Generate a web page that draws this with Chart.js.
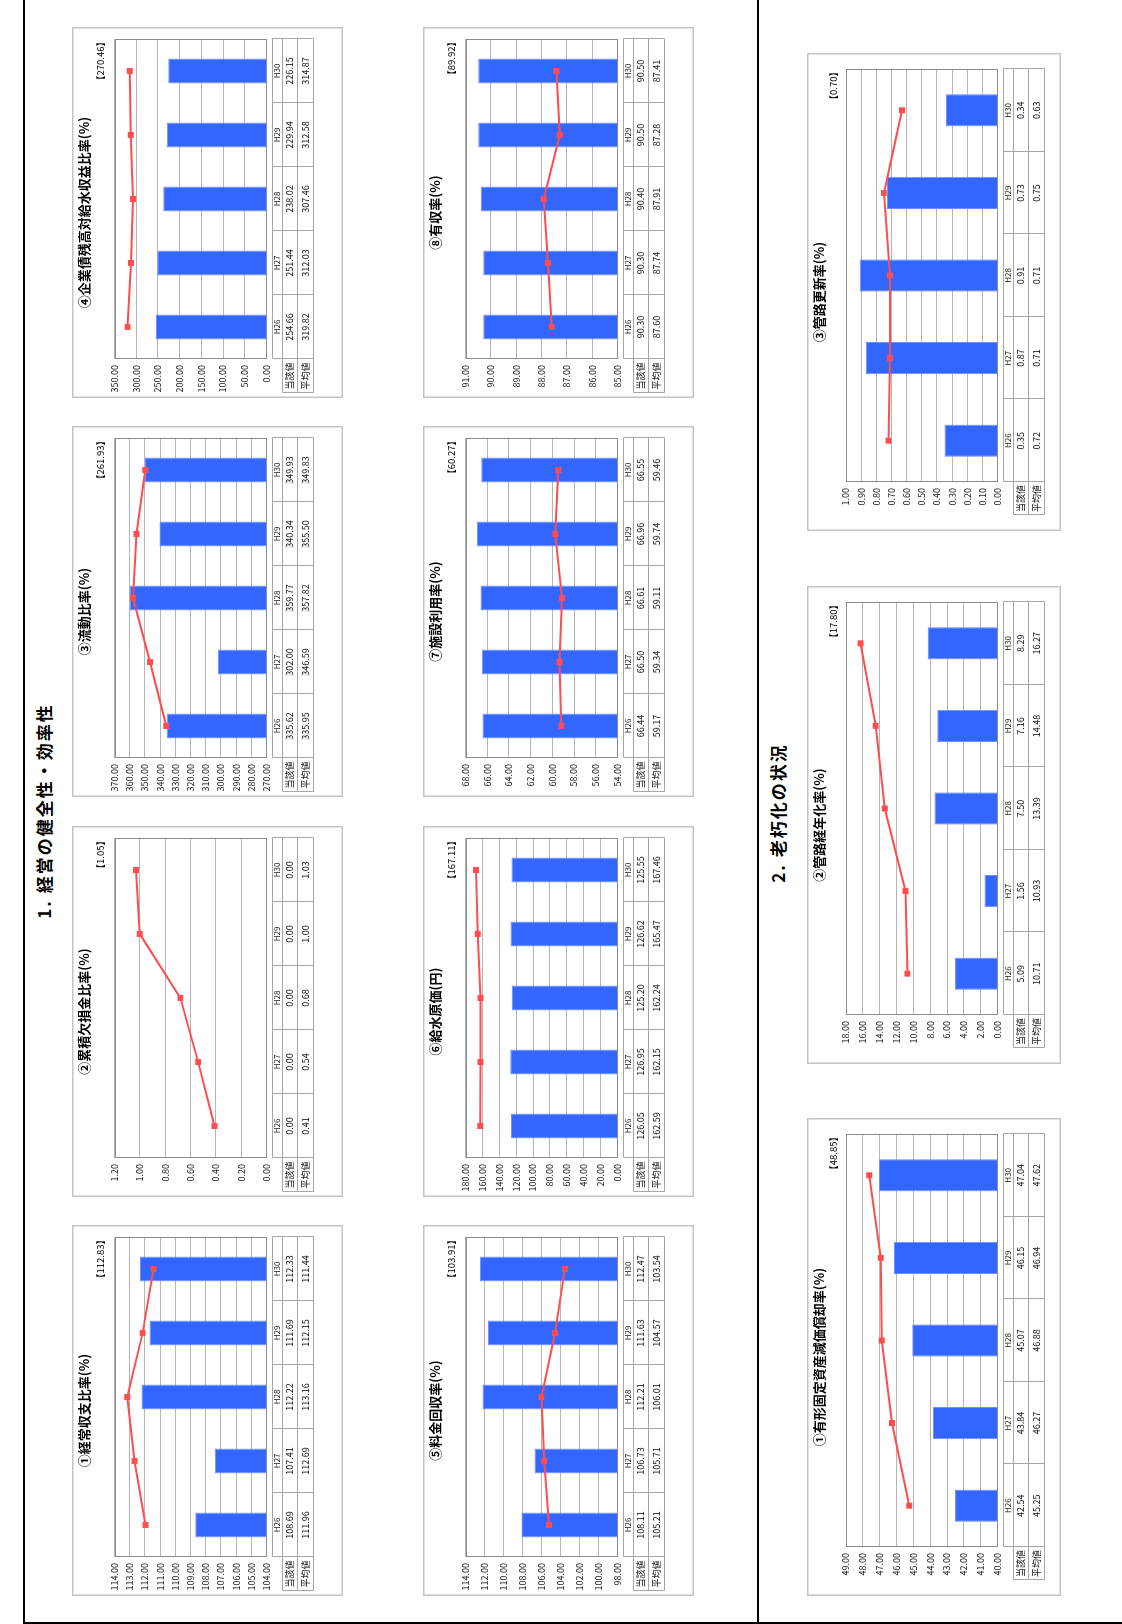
<!DOCTYPE html>
<html lang="ja">
<head>
<meta charset="utf-8">
<title>経営比較分析</title>
<script src="https://cdn.jsdelivr.net/npm/chart.js@4.4.0/dist/chart.umd.min.js"></script>
<style>
html, body { margin: 0; padding: 0; background: #fff; }
body { width: 1122px; height: 1624px; overflow: hidden; position: relative; font-family: "Noto Sans CJK JP", sans-serif; }
/* the sheet is landscape, turned a quarter to fit the portrait page */
#page { position: absolute; left: 0; top: 0; width: 1624px; height: 1122px; transform-origin: 0 0; transform: translate(0, 1624px) rotate(-90deg); }
.line { position: absolute; background: #000; }
.sec { position: absolute; font-weight: bold; font-size: 17px; letter-spacing: 2px; white-space: nowrap; transform: translate(-50%, -50%); color: #000; }
.box { position: absolute; }
.box canvas { display: block; }
</style>
</head>
<body>
<div id="page">
  <div class="line" style="left:1px;top:23px;width:1623px;height:2px"></div>
  <div class="line" style="left:1px;top:757px;width:1623px;height:2px"></div>
  <div class="line" style="left:0;top:23px;width:2px;height:1099px"></div>
  <div class="sec" style="left:813px;top:43px">1. 経営の健全性・効率性</div>
  <div class="sec" style="left:811px;top:777px">2. 老朽化の状況</div>
</div>

<script>
const years = ["H26", "H27", "H28", "H29", "H30"];
const rowNames = ["当該値", "平均値"];

/* ================= 1. 経営の健全性・効率性 ================= */

const keijoVal = [108.69, 107.41, 112.22, 111.69, 112.33];
const keijoAvg = [111.96, 112.69, 113.16, 112.15, 111.44];
const keijoAll = 112.83;
const keijoTicks = [104, 105, 106, 107, 108, 109, 110, 111, 112, 113, 114];

const kessonVal = [0.00, 0.00, 0.00, 0.00, 0.00];
const kessonAvg = [0.41, 0.54, 0.68, 1.00, 1.03];
const kessonAll = 1.05;
const kessonTicks = [0, 0.2, 0.4, 0.6, 0.8, 1.0, 1.2];

const ryudoVal = [335.62, 302.00, 359.77, 340.34, 349.93];
const ryudoAvg = [335.95, 346.59, 357.82, 355.50, 349.83];
const ryudoAll = 261.93;
const ryudoTicks = [270, 280, 290, 300, 310, 320, 330, 340, 350, 360, 370];

const kisaiVal = [254.66, 251.44, 238.02, 229.94, 226.15];
const kisaiAvg = [319.82, 312.03, 307.46, 312.58, 314.87];
const kisaiAll = 270.46;
const kisaiTicks = [0, 50, 100, 150, 200, 250, 300, 350];

const ryokinVal = [108.11, 106.73, 112.21, 111.63, 112.47];
const ryokinAvg = [105.21, 105.71, 106.01, 104.57, 103.54];
const ryokinAll = 103.91;
const ryokinTicks = [98, 100, 102, 104, 106, 108, 110, 112, 114];

const genkaVal = [126.05, 126.95, 125.20, 126.62, 125.55];
const genkaAvg = [162.59, 162.15, 162.24, 165.47, 167.46];
const genkaAll = 167.11;
const genkaTicks = [0, 20, 40, 60, 80, 100, 120, 140, 160, 180];

const shisetsuVal = [66.44, 66.50, 66.61, 66.96, 66.55];
const shisetsuAvg = [59.17, 59.34, 59.11, 59.74, 59.46];
const shisetsuAll = 60.27;
const shisetsuTicks = [54, 56, 58, 60, 62, 64, 66, 68];

const yushuVal = [90.30, 90.30, 90.40, 90.50, 90.50];
const yushuAvg = [87.60, 87.74, 87.91, 87.28, 87.41];
const yushuAll = 89.92;
const yushuTicks = [85, 86, 87, 88, 89, 90, 91];

/* ================= 2. 老朽化の状況 ================= */

const shokyakuVal = [42.54, 43.84, 45.07, 46.15, 47.04];
const shokyakuAvg = [45.25, 46.27, 46.88, 46.94, 47.62];
const shokyakuAll = 48.85;
const shokyakuTicks = [40, 41, 42, 43, 44, 45, 46, 47, 48, 49];

const keinenVal = [5.09, 1.56, 7.50, 7.16, 8.29];
const keinenAvg = [10.71, 10.93, 13.39, 14.48, 16.27];
const keinenAll = 17.80;
const keinenTicks = [0, 2, 4, 6, 8, 10, 12, 14, 16, 18];

const koshinVal = [0.35, 0.87, 0.91, 0.73, 0.34];
const koshinAvg = [0.72, 0.71, 0.71, 0.75, 0.63];
const koshinAll = 0.70;
const koshinTicks = [0, 0.1, 0.2, 0.3, 0.4, 0.5, 0.6, 0.7, 0.8, 0.9, 1.0];


/* ================= LAYOUT ================= */

const sec1 = { w: 371, h: 271, left: 39, top: 42.5, right: 359, bottom: 194.5, labelLeft: 5, titleY: 12, noteY: 28 };
const sec2 = { w: 478, h: 254, left: 49, top: 39, right: 462, bottom: 190.6, labelLeft: 16, titleY: 12, noteY: 26 };

const charts = [
    { title: "①経常収支比率(%)", val: keijoVal, avg: keijoAvg, all: keijoAll, ticks: keijoTicks, x: 28, y: 72, L: sec1 },
    { title: "②累積欠損金比率(%)", val: kessonVal, avg: kessonAvg, all: kessonAll, ticks: kessonTicks, x: 427, y: 72, L: sec1 },
    { title: "③流動比率(%)", val: ryudoVal, avg: ryudoAvg, all: ryudoAll, ticks: ryudoTicks, x: 827, y: 72, L: sec1 },
    { title: "④企業債残高対給水収益比率(%)", val: kisaiVal, avg: kisaiAvg, all: kisaiAll, ticks: kisaiTicks, x: 1226, y: 72, L: sec1 },
    { title: "⑤料金回収率(%)", val: ryokinVal, avg: ryokinAvg, all: ryokinAll, ticks: ryokinTicks, x: 28, y: 423, L: sec1 },
    { title: "⑥給水原価(円)", val: genkaVal, avg: genkaAvg, all: genkaAll, ticks: genkaTicks, x: 427, y: 423, L: sec1 },
    { title: "⑦施設利用率(%)", val: shisetsuVal, avg: shisetsuAvg, all: shisetsuAll, ticks: shisetsuTicks, x: 827, y: 423, L: sec1 },
    { title: "⑧有収率(%)", val: yushuVal, avg: yushuAvg, all: yushuAll, ticks: yushuTicks, x: 1226, y: 423, L: sec1 },
    { title: "①有形固定資産減価償却率(%)", val: shokyakuVal, avg: shokyakuAvg, all: shokyakuAll, ticks: shokyakuTicks, x: 28, y: 807, L: sec2 },
    { title: "②管路経年化率(%)", val: keinenVal, avg: keinenAvg, all: keinenAll, ticks: keinenTicks, x: 560, y: 807, L: sec2 },
    { title: "③管路更新率(%)", val: koshinVal, avg: koshinAvg, all: koshinAll, ticks: koshinTicks, x: 1093, y: 807, L: sec2 }
];

const FONT = "'Noto Sans CJK JP', sans-serif";
Chart.defaults.font.family = FONT;
Chart.defaults.color = "#222";

const px = v => Math.round(v) + 0.5;

/* frame, title, 【全国平均】 and the data table under the plot */
const sheetPlugin = {
    id: "sheet",
    afterDraw(chart, args, opts) {
        const ctx = chart.ctx;
        const a = chart.chartArea;
        const xs = chart.scales.x;
        const W = chart.width, H = chart.height;

        ctx.save();

        ctx.strokeStyle = "#c4c4c4";
        ctx.lineWidth = 1.5;
        ctx.strokeRect(0.75, 0.75, W - 1.5, H - 1.5);

        ctx.strokeStyle = "#8c8c8c";
        ctx.lineWidth = 1;
        ctx.strokeRect(px(a.left), px(a.top), Math.round(a.right) - Math.round(a.left) - 1, Math.round(a.bottom) - Math.round(a.top) - 1);

        ctx.fillStyle = "#000";
        ctx.textAlign = "center";
        ctx.textBaseline = "middle";
        ctx.font = "bold 13px " + FONT;
        ctx.fillText(opts.title, W / 2, opts.titleY);

        ctx.font = "9.5px " + FONT;
        ctx.textAlign = "right";
        ctx.fillText("【" + opts.all.toFixed(2) + "】", a.right + 2, opts.noteY);

        // table
        const n = chart.data.labels.length;
        const edges = [];
        for (let i = 0; i <= n; i++) {
            if (i === 0) edges.push(a.left);
            else if (i === n) edges.push(a.right);
            else edges.push((xs.getPixelForValue(i - 1) + xs.getPixelForValue(i)) / 2);
        }
        const t0 = a.bottom + 5, t1 = t0 + 10, t2 = t1 + 15.5, t3 = t2 + 15.5;

        ctx.strokeStyle = "#a6a6a6";
        ctx.beginPath();
        ctx.moveTo(px(a.left), px(t0)); ctx.lineTo(px(a.right), px(t0));
        [t1, t2, t3].forEach(y => {
            ctx.moveTo(px(opts.labelLeft), px(y));
            ctx.lineTo(px(a.right), px(y));
        });
        edges.forEach(x => {
            ctx.moveTo(px(x), px(t0));
            ctx.lineTo(px(x), px(t3));
        });
        ctx.moveTo(px(opts.labelLeft), px(t1));
        ctx.lineTo(px(opts.labelLeft), px(t3));
        ctx.stroke();

        ctx.fillStyle = "#111";
        ctx.textAlign = "center";
        ctx.font = "8px " + FONT;
        chart.data.labels.forEach((lab, i) => {
            ctx.fillText(lab, (edges[i] + edges[i + 1]) / 2, (t0 + t1) / 2 + 0.5);
        });

        ctx.font = "9px " + FONT;
        const rows = [opts.val, opts.avg];
        const ys = [(t1 + t2) / 2 + 0.5, (t2 + t3) / 2 + 0.5];
        rows.forEach((row, r) => {
            ctx.fillText(rowNames[r], (opts.labelLeft + a.left) / 2, ys[r]);
            row.forEach((v, i) => {
                ctx.fillText(v.toFixed(2), (edges[i] + edges[i + 1]) / 2, ys[r]);
            });
        });

        ctx.restore();
    }
};

const page = document.getElementById("page");

charts.forEach(c => {
    const L = c.L;

    const box = document.createElement("div");
    box.className = "box";
    box.style.left = c.x + "px";
    box.style.top = c.y + "px";
    const canvas = document.createElement("canvas");
    canvas.width = L.w;
    canvas.height = L.h;
    canvas.style.width = L.w + "px";
    canvas.style.height = L.h + "px";
    box.appendChild(canvas);
    page.appendChild(box);

    const lo = c.ticks[0];
    const hi = c.ticks[c.ticks.length - 1];

    new Chart(canvas.getContext("2d"), {
        type: "bar",
        data: {
            labels: years,
            datasets: [{
                type: "line",
                label: "平均値",
                data: c.avg,
                borderColor: "#ff4d4d",
                backgroundColor: "#ff4d4d",
                borderWidth: 2,
                pointStyle: "rect",
                pointRadius: 4.2,
                pointBorderWidth: 0,
                tension: 0,
                order: 1
            }, {
                type: "bar",
                label: "当該値",
                data: c.val,
                backgroundColor: "#3366ff",
                borderColor: "#7090ff",
                borderWidth: 1,
                barPercentage: 0.39,
                categoryPercentage: 1,
                base: lo,
                order: 2
            }]
        },
        options: {
            responsive: false,
            animation: false,
            devicePixelRatio: 1,
            layout: {
                padding: { left: 2, top: L.top, right: L.w - L.right, bottom: L.h - L.bottom }
            },
            plugins: {
                legend: { display: false },
                tooltip: { enabled: false },
                sheet: { title: c.title, all: c.all, val: c.val, avg: c.avg, titleY: L.titleY, noteY: L.noteY, labelLeft: L.labelLeft }
            },
            scales: {
                x: { display: false, offset: true },
                y: {
                    min: lo,
                    max: hi,
                    afterFit: s => { s.width = L.left - 2; },
                    afterBuildTicks: s => { s.ticks = c.ticks.map(v => ({ value: v })); },
                    ticks: {
                        padding: 6,
                        font: { size: 9 },
                        color: "#222",
                        callback: v => Number(v).toFixed(2)
                    },
                    grid: { color: "#b4b4b4", drawTicks: false },
                    border: { display: false }
                }
            }
        },
        plugins: [sheetPlugin]
    });
});
</script>
</body>
</html>
